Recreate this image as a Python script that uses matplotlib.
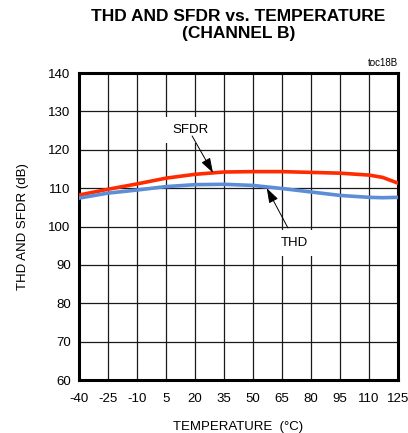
import numpy as np
import matplotlib.pyplot as plt

plt.rcParams['font.family'] = ['Liberation Sans', 'DejaVu Sans']
plt.rcParams['axes.unicode_minus'] = False

temp = [-40, -25, -10, 5, 20, 35, 50, 65, 80, 95, 110, 117, 125]
sfdr = [108.2, 109.7, 111.1, 112.6, 113.6, 114.2, 114.3, 114.3, 114.1, 113.9, 113.4, 112.8, 111.3]
thd = [107.4, 108.7, 109.5, 110.4, 110.9, 111.0, 110.7, 109.9, 109.0, 108.1, 107.6, 107.5, 107.6]
xticks = [-40, -25, -10, 5, 20, 35, 50, 65, 80, 95, 110, 125]
yticks = [60, 70, 80, 90, 100, 110, 120, 130, 140]

fig = plt.figure(figsize=(4.08, 4.33), dpi=100)
ax = fig.add_axes([0.1936, 0.1224, 0.7819, 0.709])

ax.plot(temp, sfdr, color='#ff2a00', lw=2.6, zorder=3)
ax.plot(temp, thd, color='#5b8ed6', lw=2.6, zorder=3)

ax.set_xlim(-40, 125)
ax.set_ylim(60, 140)
ax.set_xticks(xticks)
ax.set_yticks(yticks)
ax.tick_params(length=0, labelsize=9.5)
ax.tick_params(axis='x', pad=9)
ax.tick_params(axis='y', pad=6)
ax.grid(True, color='#1a1a1a', lw=0.9)
for s in ax.spines.values():
    s.set_linewidth(2.2)

ax.set_xlabel('TEMPERATURE  (°C)', fontsize=9.5, labelpad=12)
ax.set_ylabel('THD AND SFDR (dB)', fontsize=9.5, labelpad=14)
ax.set_title('THD AND SFDR vs. TEMPERATURE\n(CHANNEL B)', fontsize=12.5,
             fontweight='bold', pad=25, linespacing=1.15)
ax.text(1.0, 1.015, 'toc18B', transform=ax.transAxes, ha='right', va='bottom', fontsize=7)

# labels with white boxes
ax.text(17.5, 125.2, 'SFDR', fontsize=9.5, ha='center', va='center', zorder=4,
        bbox=dict(fc='white', ec='none', boxstyle='square,pad=0.55'))
ax.text(71.5, 95.7, 'THD', fontsize=9.5, ha='center', va='center', zorder=4,
        bbox=dict(fc='white', ec='none', boxstyle='square,pad=0.5'))
arrow = dict(arrowstyle='-|>,head_length=0.9,head_width=0.3', color='black', lw=0.7,
             shrinkA=0, shrinkB=0)
ax.annotate('', xy=(29.3, 114.0), xytext=(18.5, 123.6), arrowprops=arrow, zorder=5)
ax.annotate('', xy=(57.1, 110.0), xytext=(68.1, 99.6), arrowprops=arrow, zorder=5)

fig.savefig('out.png', dpi=100)
